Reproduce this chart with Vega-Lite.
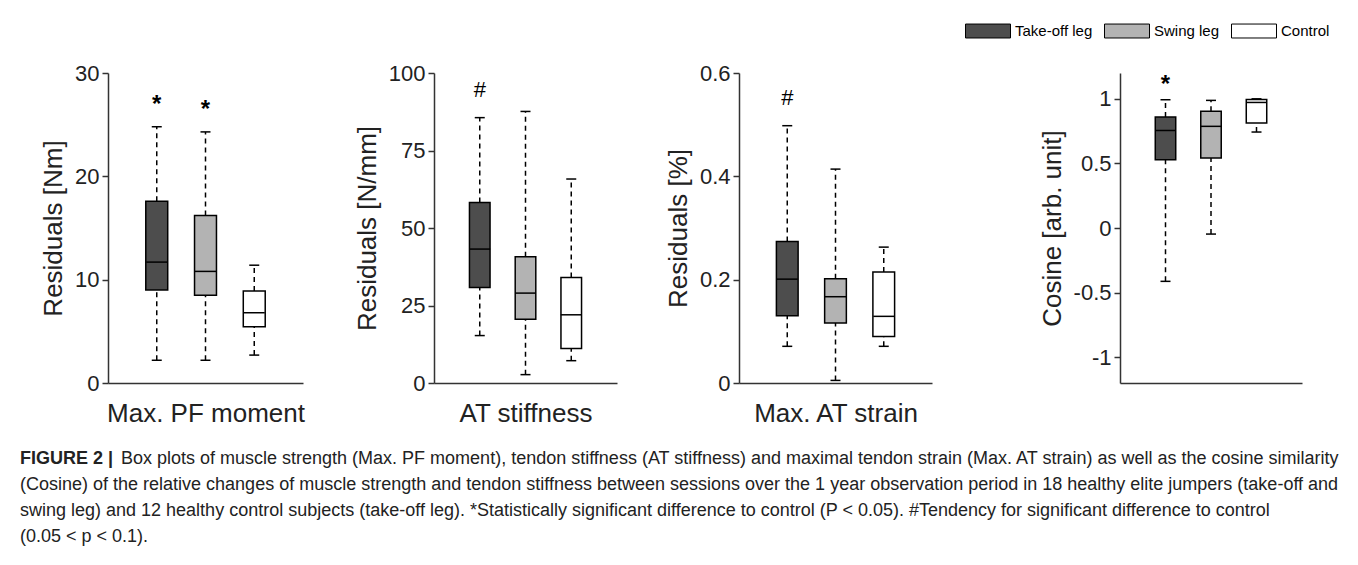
{
  "$schema": "https://vega.github.io/schema/vega-lite/v6.json",
  "background": "white",
  "padding": {"left": 20, "top": 8, "right": 5, "bottom": 5},
  "datasets": {
    "box": [
      {"measure": "PF", "group": "Take-off leg", "min": 2.2, "q1": 9.0, "median": 11.7, "q3": 17.6, "max": 24.8, "sig": "*"},
      {"measure": "PF", "group": "Swing leg", "min": 2.2, "q1": 8.5, "median": 10.8, "q3": 16.2, "max": 24.3, "sig": "*"},
      {"measure": "PF", "group": "Control", "min": 2.7, "q1": 5.45, "median": 6.8, "q3": 8.9, "max": 11.4, "sig": ""},
      {"measure": "ATS", "group": "Take-off leg", "min": 15.3, "q1": 30.8, "median": 43.2, "q3": 58.2, "max": 85.6, "sig": "#"},
      {"measure": "ATS", "group": "Swing leg", "min": 2.7, "q1": 20.6, "median": 29.0, "q3": 40.7, "max": 87.6, "sig": ""},
      {"measure": "ATS", "group": "Control", "min": 7.2, "q1": 11.1, "median": 22.0, "q3": 34.0, "max": 65.8, "sig": ""},
      {"measure": "STR", "group": "Take-off leg", "min": 0.071, "q1": 0.130, "median": 0.201, "q3": 0.274, "max": 0.498, "sig": "#"},
      {"measure": "STR", "group": "Swing leg", "min": 0.005, "q1": 0.116, "median": 0.167, "q3": 0.202, "max": 0.414, "sig": ""},
      {"measure": "STR", "group": "Control", "min": 0.071, "q1": 0.090, "median": 0.129, "q3": 0.215, "max": 0.263, "sig": ""},
      {"measure": "COS", "group": "Take-off leg", "min": -0.413, "q1": 0.529, "median": 0.755, "q3": 0.859, "max": 0.993, "sig": "*"},
      {"measure": "COS", "group": "Swing leg", "min": -0.047, "q1": 0.542, "median": 0.787, "q3": 0.903, "max": 0.988, "sig": ""},
      {"measure": "COS", "group": "Control", "min": 0.743, "q1": 0.813, "median": 0.972, "q3": 0.995, "max": 1.0, "sig": ""}
    ],
    "caption": [
      {"line": 1, "part": "bold", "text": "FIGURE 2 |"},
      {"line": 1, "part": "rest", "text": "Box plots of muscle strength (Max. PF moment), tendon stiffness (AT stiffness) and maximal tendon strain (Max. AT strain) as well as the cosine similarity"},
      {"line": 2, "part": "body", "text": "(Cosine) of the relative changes of muscle strength and tendon stiffness between sessions over the 1 year observation period in 18 healthy elite jumpers (take-off and"},
      {"line": 3, "part": "body", "text": "swing leg) and 12 healthy control subjects (take-off leg). *Statistically significant difference to control (P < 0.05). #Tendency for significant difference to control"},
      {"line": 4, "part": "body", "text": "(0.05 < p < 0.1)."}
    ]
  },
  "config": {
    "font": "Liberation Sans",
    "view": {"stroke": null},
    "axis": {"domainColor": "#333333", "domainWidth": 1.5, "tickColor": "#333333", "tickWidth": 1.5, "tickSize": 6, "labelFontSize": 22, "labelColor": "#222222", "labelFont": "Liberation Sans", "titleFontSize": 26, "titleFontWeight": "normal", "titleColor": "#222222", "titleFont": "Liberation Sans", "grid": false, "labelPadding": 3},
    "axisX": {"titlePadding": 17},
    "axisY": {"titlePadding": 8, "labelFlush": false}
  },
  "bounds": "full",
  "spacing": 20,
  "resolve": {"scale": {"color": "shared"}},
  "vconcat": [
    {
      "bounds": "flush",
      "spacing": 40,
      "data": {"name": "box"},
      "hconcat": [
        {
          "width": 195, "height": 310,
          "transform": [{"filter": "datum.measure === 'PF'"}],
          "encoding": {"x": {"field": "group", "type": "nominal", "sort": ["Take-off leg", "Swing leg", "Control"], "scale": {"paddingInner": 0.55, "paddingOuter": 0.775}, "axis": {"title": "Max. PF moment", "labels": false, "ticks": false}}},
          "layer": [
            {"mark": {"type": "rule", "strokeDash": [5, 4], "strokeWidth": 1.5, "color": "black"}, "encoding": {"y": {"field": "min", "type": "quantitative", "scale": {"domain": [0, 30], "nice": false, "zero": false}, "axis": {"title": "Residuals [Nm]", "values": [0, 10, 20, 30]}}, "y2": {"field": "q1"}}},
            {"mark": {"type": "rule", "strokeDash": [5, 4], "strokeWidth": 1.5, "color": "black"}, "encoding": {"y": {"field": "q3", "type": "quantitative", "scale": {"domain": [0, 30], "nice": false, "zero": false}, "axis": {"title": "Residuals [Nm]", "values": [0, 10, 20, 30]}}, "y2": {"field": "max"}}},
            {"mark": {"type": "tick", "size": 10, "thickness": 1.5, "color": "black", "opacity": 1}, "encoding": {"y": {"field": "min", "type": "quantitative", "scale": {"domain": [0, 30], "nice": false, "zero": false}, "axis": {"title": "Residuals [Nm]", "values": [0, 10, 20, 30]}}}},
            {"mark": {"type": "tick", "size": 10, "thickness": 1.5, "color": "black", "opacity": 1}, "encoding": {"y": {"field": "max", "type": "quantitative", "scale": {"domain": [0, 30], "nice": false, "zero": false}, "axis": {"title": "Residuals [Nm]", "values": [0, 10, 20, 30]}}}},
            {"mark": {"type": "bar", "stroke": "black", "strokeWidth": 1.5, "opacity": 1}, "encoding": {"y": {"field": "q1", "type": "quantitative", "scale": {"domain": [0, 30], "nice": false, "zero": false}, "axis": {"title": "Residuals [Nm]", "values": [0, 10, 20, 30]}}, "y2": {"field": "q3"}, "color": {"field": "group", "type": "nominal", "scale": {"domain": ["Take-off leg", "Swing leg", "Control"], "range": ["#4d4d4d", "#b3b3b3", "#ffffff"]}, "legend": {"orient": "none", "legendX": 857, "legendY": -65, "direction": "horizontal", "title": null, "symbolType": "M-1,-0.31L1,-0.31L1,0.31L-1,0.31Z", "symbolSize": 2025, "symbolStrokeColor": "black", "symbolStrokeWidth": 1, "symbolOpacity": 1, "labelFontSize": 15, "labelFont": "Liberation Sans", "labelColor": "#000000", "labelOffset": 4, "columnPadding": 9, "padding": 0}}}},
            {"mark": {"type": "tick", "size": 21, "thickness": 1.5, "color": "black", "opacity": 1}, "encoding": {"y": {"field": "median", "type": "quantitative", "scale": {"domain": [0, 30], "nice": false, "zero": false}, "axis": {"title": "Residuals [Nm]", "values": [0, 10, 20, 30]}}}},
            {"transform": [{"filter": "datum.sig !== ''"}], "mark": {"type": "text", "dy": -22, "fontSize": 24, "fontWeight": "bold", "color": "black", "baseline": "middle"}, "encoding": {"y": {"field": "max", "type": "quantitative", "scale": {"domain": [0, 30], "nice": false, "zero": false}, "axis": {"title": "Residuals [Nm]", "values": [0, 10, 20, 30]}}, "text": {"field": "sig"}}}
          ]
        },
        {"width": 51, "height": 310, "data": {"values": []}, "mark": "point"},
        {
          "width": 183, "height": 310,
          "transform": [{"filter": "datum.measure === 'ATS'"}],
          "encoding": {"x": {"field": "group", "type": "nominal", "sort": ["Take-off leg", "Swing leg", "Control"], "scale": {"paddingInner": 0.55, "paddingOuter": 0.775}, "axis": {"title": "AT stiffness", "labels": false, "ticks": false}}},
          "layer": [
            {"mark": {"type": "rule", "strokeDash": [5, 4], "strokeWidth": 1.5, "color": "black"}, "encoding": {"y": {"field": "min", "type": "quantitative", "scale": {"domain": [0, 100], "nice": false, "zero": false}, "axis": {"title": "Residuals [N/mm]", "values": [0, 25, 50, 75, 100]}}, "y2": {"field": "q1"}}},
            {"mark": {"type": "rule", "strokeDash": [5, 4], "strokeWidth": 1.5, "color": "black"}, "encoding": {"y": {"field": "q3", "type": "quantitative", "scale": {"domain": [0, 100], "nice": false, "zero": false}, "axis": {"title": "Residuals [N/mm]", "values": [0, 25, 50, 75, 100]}}, "y2": {"field": "max"}}},
            {"mark": {"type": "tick", "size": 10, "thickness": 1.5, "color": "black", "opacity": 1}, "encoding": {"y": {"field": "min", "type": "quantitative", "scale": {"domain": [0, 100], "nice": false, "zero": false}, "axis": {"title": "Residuals [N/mm]", "values": [0, 25, 50, 75, 100]}}}},
            {"mark": {"type": "tick", "size": 10, "thickness": 1.5, "color": "black", "opacity": 1}, "encoding": {"y": {"field": "max", "type": "quantitative", "scale": {"domain": [0, 100], "nice": false, "zero": false}, "axis": {"title": "Residuals [N/mm]", "values": [0, 25, 50, 75, 100]}}}},
            {"mark": {"type": "bar", "stroke": "black", "strokeWidth": 1.5, "opacity": 1}, "encoding": {"y": {"field": "q1", "type": "quantitative", "scale": {"domain": [0, 100], "nice": false, "zero": false}, "axis": {"title": "Residuals [N/mm]", "values": [0, 25, 50, 75, 100]}}, "y2": {"field": "q3"}, "color": {"field": "group", "type": "nominal"}}},
            {"mark": {"type": "tick", "size": 21, "thickness": 1.5, "color": "black", "opacity": 1}, "encoding": {"y": {"field": "median", "type": "quantitative", "scale": {"domain": [0, 100], "nice": false, "zero": false}, "axis": {"title": "Residuals [N/mm]", "values": [0, 25, 50, 75, 100]}}}},
            {"transform": [{"filter": "datum.sig !== ''"}], "mark": {"type": "text", "dy": -28, "fontSize": 22, "fontWeight": "normal", "color": "black", "baseline": "middle"}, "encoding": {"y": {"field": "max", "type": "quantitative", "scale": {"domain": [0, 100], "nice": false, "zero": false}, "axis": {"title": "Residuals [N/mm]", "values": [0, 25, 50, 75, 100]}}, "text": {"field": "sig"}}}
          ]
        },
        {"width": 42, "height": 310, "data": {"values": []}, "mark": "point"},
        {
          "width": 193, "height": 310,
          "transform": [{"filter": "datum.measure === 'STR'"}],
          "encoding": {"x": {"field": "group", "type": "nominal", "sort": ["Take-off leg", "Swing leg", "Control"], "scale": {"paddingInner": 0.55, "paddingOuter": 0.775}, "axis": {"title": "Max. AT strain", "labels": false, "ticks": false}}},
          "layer": [
            {"mark": {"type": "rule", "strokeDash": [5, 4], "strokeWidth": 1.5, "color": "black"}, "encoding": {"y": {"field": "min", "type": "quantitative", "scale": {"domain": [0, 0.6], "nice": false, "zero": false}, "axis": {"title": "Residuals [%]", "values": [0, 0.2, 0.4, 0.6], "format": "~g"}}, "y2": {"field": "q1"}}},
            {"mark": {"type": "rule", "strokeDash": [5, 4], "strokeWidth": 1.5, "color": "black"}, "encoding": {"y": {"field": "q3", "type": "quantitative", "scale": {"domain": [0, 0.6], "nice": false, "zero": false}, "axis": {"title": "Residuals [%]", "values": [0, 0.2, 0.4, 0.6], "format": "~g"}}, "y2": {"field": "max"}}},
            {"mark": {"type": "tick", "size": 10, "thickness": 1.5, "color": "black", "opacity": 1}, "encoding": {"y": {"field": "min", "type": "quantitative", "scale": {"domain": [0, 0.6], "nice": false, "zero": false}, "axis": {"title": "Residuals [%]", "values": [0, 0.2, 0.4, 0.6], "format": "~g"}}}},
            {"mark": {"type": "tick", "size": 10, "thickness": 1.5, "color": "black", "opacity": 1}, "encoding": {"y": {"field": "max", "type": "quantitative", "scale": {"domain": [0, 0.6], "nice": false, "zero": false}, "axis": {"title": "Residuals [%]", "values": [0, 0.2, 0.4, 0.6], "format": "~g"}}}},
            {"mark": {"type": "bar", "stroke": "black", "strokeWidth": 1.5, "opacity": 1}, "encoding": {"y": {"field": "q1", "type": "quantitative", "scale": {"domain": [0, 0.6], "nice": false, "zero": false}, "axis": {"title": "Residuals [%]", "values": [0, 0.2, 0.4, 0.6], "format": "~g"}}, "y2": {"field": "q3"}, "color": {"field": "group", "type": "nominal"}}},
            {"mark": {"type": "tick", "size": 21, "thickness": 1.5, "color": "black", "opacity": 1}, "encoding": {"y": {"field": "median", "type": "quantitative", "scale": {"domain": [0, 0.6], "nice": false, "zero": false}, "axis": {"title": "Residuals [%]", "values": [0, 0.2, 0.4, 0.6], "format": "~g"}}}},
            {"transform": [{"filter": "datum.sig !== ''"}], "mark": {"type": "text", "dy": -28, "fontSize": 22, "fontWeight": "normal", "color": "black", "baseline": "middle"}, "encoding": {"y": {"field": "max", "type": "quantitative", "scale": {"domain": [0, 0.6], "nice": false, "zero": false}, "axis": {"title": "Residuals [%]", "values": [0, 0.2, 0.4, 0.6], "format": "~g"}}, "text": {"field": "sig"}}}
          ]
        },
        {"width": 108, "height": 310, "data": {"values": []}, "mark": "point"},
        {
          "width": 182, "height": 310,
          "transform": [{"filter": "datum.measure === 'COS'"}],
          "encoding": {"x": {"field": "group", "type": "nominal", "sort": ["Take-off leg", "Swing leg", "Control"], "scale": {"paddingInner": 0.55, "paddingOuter": 0.775}, "axis": {"title": null, "labels": false, "ticks": false}}},
          "layer": [
            {"mark": {"type": "rule", "strokeDash": [5, 4], "strokeWidth": 1.5, "color": "black"}, "encoding": {"y": {"field": "min", "type": "quantitative", "scale": {"domain": [-1.2, 1.2], "nice": false, "zero": false}, "axis": {"title": "Cosine [arb. unit]", "values": [-1, -0.5, 0, 0.5, 1], "format": "~g", "labelExpr": "replace(datum.label, '\u2212', '-')"}}, "y2": {"field": "q1"}}},
            {"mark": {"type": "rule", "strokeDash": [5, 4], "strokeWidth": 1.5, "color": "black"}, "encoding": {"y": {"field": "q3", "type": "quantitative", "scale": {"domain": [-1.2, 1.2], "nice": false, "zero": false}, "axis": {"title": "Cosine [arb. unit]", "values": [-1, -0.5, 0, 0.5, 1], "format": "~g", "labelExpr": "replace(datum.label, '\u2212', '-')"}}, "y2": {"field": "max"}}},
            {"mark": {"type": "tick", "size": 10, "thickness": 1.5, "color": "black", "opacity": 1}, "encoding": {"y": {"field": "min", "type": "quantitative", "scale": {"domain": [-1.2, 1.2], "nice": false, "zero": false}, "axis": {"title": "Cosine [arb. unit]", "values": [-1, -0.5, 0, 0.5, 1], "format": "~g", "labelExpr": "replace(datum.label, '\u2212', '-')"}}}},
            {"mark": {"type": "tick", "size": 10, "thickness": 1.5, "color": "black", "opacity": 1}, "encoding": {"y": {"field": "max", "type": "quantitative", "scale": {"domain": [-1.2, 1.2], "nice": false, "zero": false}, "axis": {"title": "Cosine [arb. unit]", "values": [-1, -0.5, 0, 0.5, 1], "format": "~g", "labelExpr": "replace(datum.label, '\u2212', '-')"}}}},
            {"mark": {"type": "bar", "stroke": "black", "strokeWidth": 1.5, "opacity": 1}, "encoding": {"y": {"field": "q1", "type": "quantitative", "scale": {"domain": [-1.2, 1.2], "nice": false, "zero": false}, "axis": {"title": "Cosine [arb. unit]", "values": [-1, -0.5, 0, 0.5, 1], "format": "~g", "labelExpr": "replace(datum.label, '\u2212', '-')"}}, "y2": {"field": "q3"}, "color": {"field": "group", "type": "nominal"}}},
            {"mark": {"type": "tick", "size": 21, "thickness": 1.5, "color": "black", "opacity": 1}, "encoding": {"y": {"field": "median", "type": "quantitative", "scale": {"domain": [-1.2, 1.2], "nice": false, "zero": false}, "axis": {"title": "Cosine [arb. unit]", "values": [-1, -0.5, 0, 0.5, 1], "format": "~g", "labelExpr": "replace(datum.label, '\u2212', '-')"}}}},
            {"transform": [{"filter": "datum.sig !== ''"}], "mark": {"type": "text", "dy": -15, "fontSize": 24, "fontWeight": "bold", "color": "black", "baseline": "middle"}, "encoding": {"y": {"field": "max", "type": "quantitative", "scale": {"domain": [-1.2, 1.2], "nice": false, "zero": false}, "axis": {"title": "Cosine [arb. unit]", "values": [-1, -0.5, 0, 0.5, 1], "format": "~g", "labelExpr": "replace(datum.label, '\u2212', '-')"}}, "text": {"field": "sig"}}}
          ]
        }
      ]
    },
    {
      "width": 1230, "height": 104,
      "data": {"name": "caption"},
      "encoding": {
        "y": {"field": "line", "type": "quantitative", "scale": {"domain": [0.5, 4.5], "reverse": true}, "axis": null},
        "x": {"datum": 0, "type": "quantitative", "scale": {"domain": [0, 1]}, "axis": null},
        "text": {"field": "text"}
      },
      "layer": [
        {"transform": [{"filter": "datum.part === 'bold'"}], "mark": {"type": "text", "align": "left", "baseline": "middle", "dx": -88, "font": "Liberation Sans", "fontSize": 18, "fontWeight": "bold", "color": "#222222"}},
        {"transform": [{"filter": "datum.part === 'rest'"}], "mark": {"type": "text", "align": "left", "baseline": "middle", "dx": 13, "font": "Liberation Sans", "fontSize": 18, "color": "#222222"}},
        {"transform": [{"filter": "datum.part === 'body'"}], "mark": {"type": "text", "align": "left", "baseline": "middle", "dx": -88, "font": "Liberation Sans", "fontSize": 18, "color": "#222222"}}
      ]
    }
  ]
}
